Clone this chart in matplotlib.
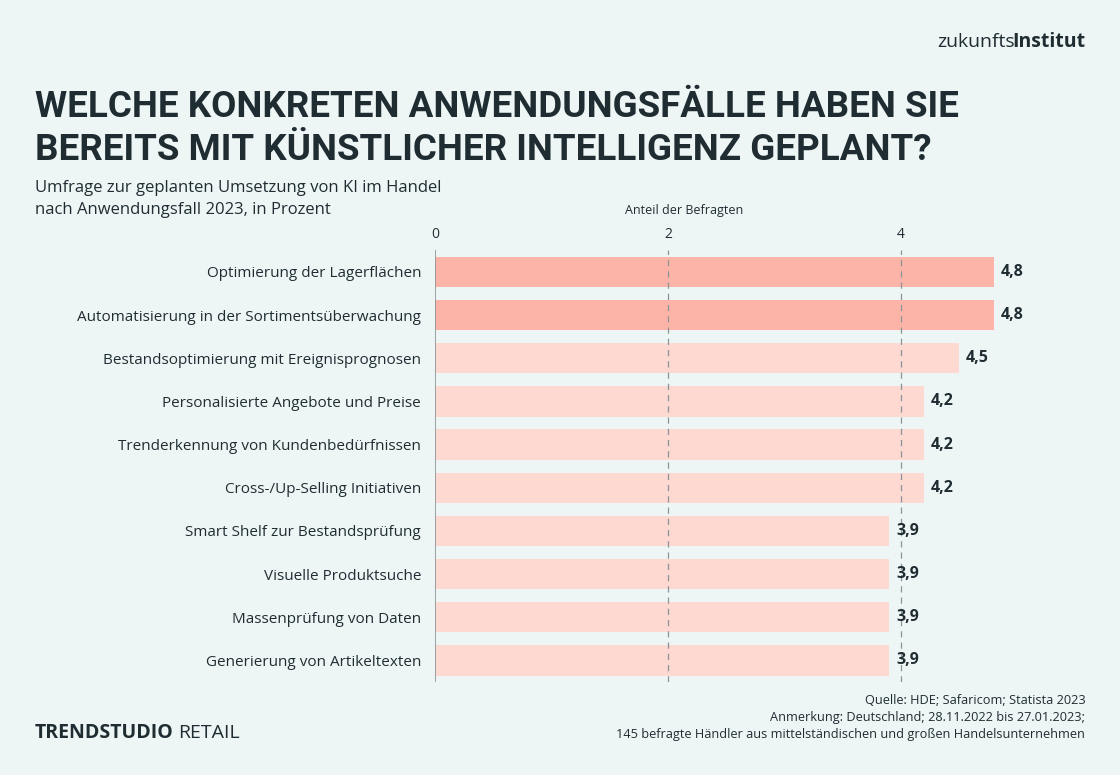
import matplotlib
matplotlib.use('Agg')
import matplotlib.pyplot as plt

# data
categories = ['Optimierung der Lagerflächen',
              'Automatisierung in der Sortimentsüberwachung',
              'Bestandsoptimierung mit Ereignisprognosen',
              'Personalisierte Angebote und Preise',
              'Trenderkennung von Kundenbedürfnissen',
              'Cross-/Up-Selling Initiativen',
              'Smart Shelf zur Bestandsprüfung',
              'Visuelle Produktsuche',
              'Massenprüfung von Daten',
              'Generierung von Artikeltexten']
values = [4.8, 4.8, 4.5, 4.2, 4.2, 4.2, 3.9, 3.9, 3.9, 3.9]
value_labels = ['4,8', '4,8', '4,5', '4,2', '4,2', '4,2', '3,9', '3,9', '3,9', '3,9']
ticks = [0, 2, 4]

bg = '#eef6f5'
dark = '#1f2d33'
strong = '#fdb4a8'
light = '#fdd9d2'

plt.rcParams['font.family'] = ['Open Sans', 'DejaVu Sans']

fig = plt.figure(figsize=(11.2, 7.75), dpi=100, facecolor=bg)
ax = fig.add_axes([0.3884, 0.12, 0.58, 0.557])
ax.set_facecolor(bg)

colors = [strong if v == max(values) else light for v in values]
ypos = list(range(len(categories)))
ax.barh(ypos, values, height=0.7, color=colors, zorder=2)

ax.set_xlim(0, 5.58)
ax.set_ylim(len(categories) - 0.5, -0.5)

for x in ticks[1:]:
    ax.axvline(x, color='#8a9396', linestyle=(0, (5, 4)), linewidth=0.9, zorder=3)
ax.axvline(0, color='#8a9396', linewidth=1.2, zorder=3)

for s in ax.spines.values():
    s.set_visible(False)

ax.xaxis.tick_top()
ax.set_xticks(ticks)
ax.set_xticklabels([str(t) for t in ticks], fontsize=10, color=dark)
ax.tick_params(axis='x', length=0, pad=6)
ax.set_yticks(ypos)
ax.set_yticklabels(categories, fontsize=11, color=dark)
ax.tick_params(axis='y', length=0, pad=10)

for y, v, lab in zip(ypos, values, value_labels):
    ax.text(v + 0.06, y, lab, va='center', ha='left', fontsize=11.5,
            fontweight='bold', color=dark)

# texts
fig.text(0.6107, 0.728, 'Anteil der Befragten', ha='center', va='center',
         fontsize=9, color=dark)

fig.text(0.031, 0.862, 'WELCHE KONKRETEN ANWENDUNGSFÄLLE HABEN SIE',
         fontsize=26.5, fontweight='bold', color=dark, va='center',
         family=['Roboto', 'DejaVu Sans'])
fig.text(0.031, 0.807, 'BEREITS MIT KÜNSTLICHER INTELLIGENZ GEPLANT?',
         fontsize=26.5, fontweight='bold', color=dark, va='center',
         family=['Roboto', 'DejaVu Sans'])
fig.text(0.031, 0.758, 'Umfrage zur geplanten Umsetzung von KI im Handel',
         fontsize=12, color=dark, va='center')
fig.text(0.031, 0.729, 'nach Anwendungsfall 2023, in Prozent',
         fontsize=12, color=dark, va='center')

# logo top right
t = fig.text(0.969, 0.946, 'Institut', ha='right', va='center', fontsize=14,
             fontweight='bold', color=dark)
fig.canvas.draw()
bb = t.get_window_extent().transformed(fig.transFigure.inverted())
fig.text(bb.x0 + 0.002, 0.946, 'zukunfts', ha='right', va='center', fontsize=14, color=dark)

# footer
t2 = fig.text(0.031, 0.054, 'TRENDSTUDIO', ha='left', va='center', fontsize=14,
              fontweight='bold', color=dark)
fig.canvas.draw()
bb2 = t2.get_window_extent().transformed(fig.transFigure.inverted())
fig.text(bb2.x1 + 0.004, 0.054, 'RETAIL', ha='left', va='center', fontsize=14, color=dark)

fig.text(0.969, 0.096, 'Quelle: HDE; Safaricom; Statista 2023', ha='right',
         va='center', fontsize=9.2, color=dark)
fig.text(0.969, 0.074, 'Anmerkung: Deutschland; 28.11.2022 bis 27.01.2023;', ha='right',
         va='center', fontsize=9.2, color=dark)
fig.text(0.969, 0.052, '145 befragte Händler aus mittelständischen und großen Handelsunternehmen',
         ha='right', va='center', fontsize=9.2, color=dark)

fig.savefig('out.png', dpi=100, facecolor=bg)
